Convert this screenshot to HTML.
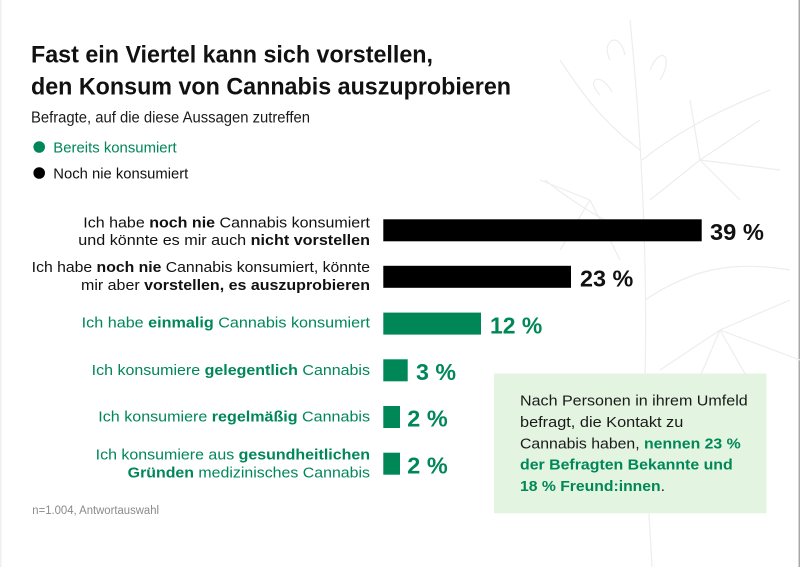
<!DOCTYPE html>
<html><head><meta charset="utf-8"><style>
html,body{margin:0;padding:0;background:#fff;}
svg{display:block;}
text{font-family:"Liberation Sans",sans-serif;}
.b{font-weight:bold;}
</style></head><body>
<svg width="800" height="567" viewBox="0 0 800 567" xmlns="http://www.w3.org/2000/svg">
<rect x="0" y="0" width="800" height="567" fill="#fff"/>
<rect x="0" y="0" width="1.5" height="567" fill="#efefef"/>
<rect x="798.5" y="0" width="1.5" height="567" fill="#a8a8a8"/>
<!-- faint plant background -->
<g fill="none" stroke="#ededed" stroke-width="1.2">
<path d="M630 20 C640 120 648 250 645 380 C643 450 650 520 652 567"/>
<path d="M640 150 C600 120 580 90 560 60"/>
<path d="M642 160 C680 130 720 110 770 90"/>
<path d="M645 300 C690 270 730 260 790 270"/>
<path d="M645 240 C600 220 570 200 545 180"/>
<path d="M700 160 L760 120 M700 160 L780 170 M700 160 L740 200 M700 160 L690 100 M700 160 L650 200"/>
<path d="M720 330 L790 300 M720 330 L800 360 M720 330 L760 400 M720 330 L690 400 M720 330 L660 370"/>
<path d="M590 200 L540 180 M590 200 L560 250 M590 200 L620 260"/>
<path d="M610 60 C600 40 620 30 625 55 M650 70 C660 45 675 55 660 80 M600 95 C585 80 600 70 612 92"/>
</g>
<!-- title -->
<text x="31" y="62.5" font-size="24" class="b" fill="#111" textLength="402" lengthAdjust="spacingAndGlyphs">Fast ein Viertel kann sich vorstellen,</text>
<text x="31" y="94.5" font-size="24" class="b" fill="#111" textLength="480" lengthAdjust="spacingAndGlyphs">den Konsum von Cannabis auszuprobieren</text>
<text x="31" y="122.3" font-size="15.5" fill="#1a1a1a" textLength="279" lengthAdjust="spacingAndGlyphs">Befragte, auf die diese Aussagen zutreffen</text>
<!-- legend -->
<circle cx="39.2" cy="147" r="5.8" fill="#008758"/>
<text x="53.3" y="152.3" font-size="15" fill="#008758" textLength="123.4" lengthAdjust="spacingAndGlyphs">Bereits konsumiert</text>
<circle cx="39.2" cy="173" r="5.8" fill="#000"/>
<text x="53.3" y="178.3" font-size="15" fill="#111" textLength="135" lengthAdjust="spacingAndGlyphs">Noch nie konsumiert</text>
<!-- labels -->
<g font-size="15" text-anchor="end">
<text x="370" y="227.3" fill="#111" textLength="286.7" lengthAdjust="spacingAndGlyphs">Ich habe <tspan class="b">noch nie</tspan> Cannabis konsumiert</text>
<text x="370" y="244.8" fill="#111" textLength="291.7" lengthAdjust="spacingAndGlyphs">und könnte es mir auch <tspan class="b">nicht vorstellen</tspan></text>
<text x="370" y="272" fill="#111" textLength="338.3" lengthAdjust="spacingAndGlyphs">Ich habe <tspan class="b">noch nie</tspan> Cannabis konsumiert, könnte</text>
<text x="370" y="290" fill="#111" textLength="289" lengthAdjust="spacingAndGlyphs">mir aber <tspan class="b">vorstellen, es auszuprobieren</tspan></text>
<text x="370" y="327.7" fill="#008758" textLength="288.3" lengthAdjust="spacingAndGlyphs">Ich habe <tspan class="b">einmalig</tspan> Cannabis konsumiert</text>
<text x="370" y="375" fill="#008758" textLength="278.3" lengthAdjust="spacingAndGlyphs">Ich konsumiere <tspan class="b">gelegentlich</tspan> Cannabis</text>
<text x="370" y="421.7" fill="#008758" textLength="271.7" lengthAdjust="spacingAndGlyphs">Ich konsumiere <tspan class="b">regelmäßig</tspan> Cannabis</text>
<text x="370" y="459.5" fill="#008758" textLength="274.3" lengthAdjust="spacingAndGlyphs">Ich konsumiere aus <tspan class="b">gesundheitlichen</tspan></text>
<text x="370" y="477.5" fill="#008758" textLength="242.3" lengthAdjust="spacingAndGlyphs"><tspan class="b">Gründen</tspan> medizinisches Cannabis</text>
</g>
<!-- bars -->
<rect x="383.3" y="219.3" width="318.4" height="22" fill="#000"/>
<rect x="383.3" y="265.8" width="187.7" height="22" fill="#000"/>
<rect x="383.3" y="312.6" width="97.7" height="22" fill="#008758"/>
<rect x="383.3" y="359.3" width="24.4" height="22" fill="#008758"/>
<rect x="383.3" y="406" width="16.7" height="22" fill="#008758"/>
<rect x="383.3" y="452.7" width="16.7" height="22" fill="#008758"/>
<!-- values -->
<g font-size="23.5" class="b">
<text x="710" y="240" fill="#111" textLength="54" lengthAdjust="spacingAndGlyphs">39 %</text>
<text x="580" y="286.7" fill="#111" textLength="53.3" lengthAdjust="spacingAndGlyphs">23 %</text>
<text x="490" y="333.3" fill="#008758" textLength="52.3" lengthAdjust="spacingAndGlyphs">12 %</text>
<text x="416" y="380" fill="#008758" textLength="40" lengthAdjust="spacingAndGlyphs">3 %</text>
<text x="407.3" y="426.7" fill="#008758" textLength="40.4" lengthAdjust="spacingAndGlyphs">2 %</text>
<text x="407.3" y="473.3" fill="#008758" textLength="40.4" lengthAdjust="spacingAndGlyphs">2 %</text>
</g>
<!-- box -->
<rect x="494" y="373.5" width="272.5" height="139.8" fill="#e3f5e1"/>
<g font-size="15" fill="#1a1a1a">
<text x="520" y="405.7" textLength="227.7" lengthAdjust="spacingAndGlyphs">Nach Personen in ihrem Umfeld</text>
<text x="520" y="427" textLength="163.3" lengthAdjust="spacingAndGlyphs">befragt, die Kontakt zu</text>
<text x="520" y="448.5" textLength="220.7" lengthAdjust="spacingAndGlyphs">Cannabis haben, <tspan class="b" fill="#008758">nennen 23 %</tspan></text>
<text x="520" y="469.7" textLength="212.7" lengthAdjust="spacingAndGlyphs" class="b" fill="#008758">der Befragten Bekannte und</text>
<text x="520" y="491" textLength="145" lengthAdjust="spacingAndGlyphs"><tspan class="b" fill="#008758">18 % Freund:innen</tspan>.</text>
</g>
<!-- footer -->
<text x="32.3" y="514" font-size="11.5" fill="#8a8a8a" textLength="126.7" lengthAdjust="spacingAndGlyphs">n=1.004, Antwortauswahl</text>
</svg>
</body></html>
